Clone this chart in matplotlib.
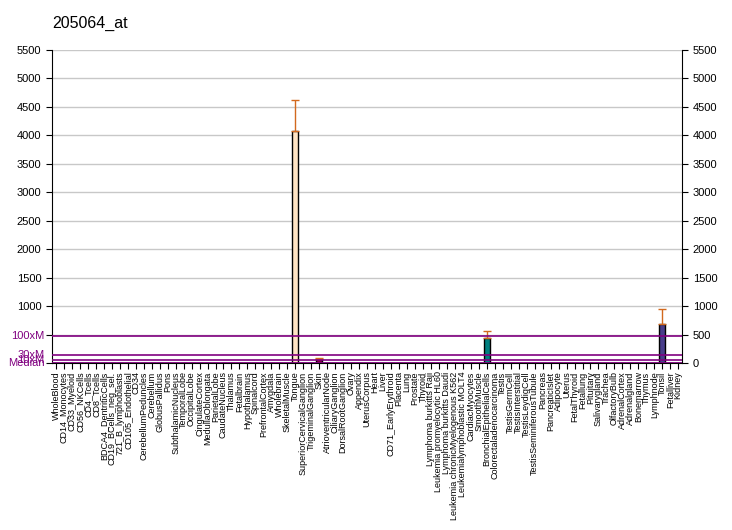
import matplotlib
matplotlib.use('Agg')
import matplotlib.pyplot as plt
import numpy as np

plt.rcParams['font.family'] = ['Liberation Sans', 'DejaVu Sans']

# 数据
tissues = ['WholeBlood', 'CD14_Monocytes', 'CD33_Myeloid', 'CD56_NKCells', 'CD4_Tcells',
           'CD8_Tcells', 'BDCA4_DentriticCells', 'CD19_BCells_neg_sel.', '721_B_lymphoblasts',
           'CD105_Endothelial', 'CD34', 'CerebellumPeduncles', 'Cerebellum', 'GlobusPallidus',
           'Pons', 'SubthalamicNucleus', 'TemporalLobe', 'OccipitalLobe', 'CingulateCortex',
           'MedullaOblongata', 'ParietalLobe', 'CaudateNucleus', 'Thalamus', 'Fetalbrain',
           'Hypothalamus', 'Spinalcord', 'PrefrontalCortex', 'Amygdala', 'Wholebrain',
           'SkeletalMuscle', 'Tongue', 'SuperiorCervicalGanglion', 'TrigeminalGanglion', 'Skin',
           'AtrioventricularNode', 'CiliaryGanglion', 'DorsalRootGanglion', 'Ovary', 'Appendix',
           'UterusCorpus', 'Heart', 'Liver', 'CD71_EarlyErythroid', 'Placenta', 'Lung',
           'Prostate', 'Thyroid', 'Lymphoma burkitts Raji', 'Leukemia promyelocytic HL60',
           'Lymphoma burkitts Daudi', 'Leukemia chronicMyelogenous K562',
           'Leukemialymphoblastic MOLT4', 'CardiacMyocytes', 'SmoothMuscle',
           'BronchialEpithelialCells', 'Colorectaladenocarcinoma', 'Testis', 'TestisGermCell',
           'TestisInterstitial', 'TestisLeydigCell', 'TestisSeminiferousTubule', 'Pancreas',
           'PancreaticIslet', 'Adipocyte', 'Uterus', 'FetalThyroid', 'Fetallung', 'Pituitary',
           'Salivarygland', 'Trachea', 'OlfactoryBulb', 'AdrenalCortex', 'Adrenalgland',
           'Bonemarrow', 'Thymus', 'Lymphnode', 'Tonsil', 'Fetalliver', 'Kidney']

# 大部分组织表达量接近0，只有少数可见
values = [4] * len(tissues)
errors = [0] * len(tissues)
highlight = {'Tongue': (4075, 550, '#FFE4C4'),
             'Skin': (65, 20, '#800040'),
             'BronchialEpithelialCells': (435, 135, '#008080'),
             'Tonsil': (687, 258, '#483D8B')}
colors = ['#C0C0C0'] * len(tissues)
for name, (v, e, c) in highlight.items():
    i = tissues.index(name)
    values[i] = v
    errors[i] = e
    colors[i] = c

median = 4.7
ref_lines = [('100xM', 470), ('30xM', 141), ('10xM', 47), ('Median', median)]

fig = plt.figure(figsize=(7.32, 5.3), dpi=100)
ax = fig.add_axes([0.071, 0.315, 0.861, 0.591])

x = np.arange(len(tissues))
ax.bar(x, values, width=0.75, color=colors, edgecolor='black', linewidth=1, zorder=2)
for i in range(len(tissues)):
    if errors[i] > 0:
        ax.errorbar(x[i], values[i], yerr=[[0], [errors[i]]], color='#D2691E',
                    capsize=3, elinewidth=1, capthick=1, zorder=3)

for label, v in ref_lines:
    lw = 2 if label == 'Median' else 1.2
    ax.axhline(v, color='#800080', linewidth=lw, zorder=4)
    ax.text(-0.012, v, label, transform=ax.get_yaxis_transform(), ha='right', va='center',
            color='#800080', fontsize=8)

ax.set_xlim(-0.5, len(tissues) - 0.5)
ax.set_ylim(0, 5500)
ax.set_yticks(np.arange(0, 5501, 500))
ax.yaxis.grid(True, color='#C8C8C8', linewidth=1)
ax.set_axisbelow(True)
ax.tick_params(axis='y', labelsize=8, right=True, labelright=True, length=4)
# 左侧 0 和 500 的刻度标签被参考线标签挡住
for tick, val in zip(ax.yaxis.get_major_ticks(), ax.get_yticks()):
    if val < 1000:
        tick.label1.set_visible(False)
ax.set_xticks(x)
ax.set_xticklabels(tissues, rotation=90, fontsize=6.5)
ax.tick_params(axis='x', length=4, pad=2)
ax.spines['top'].set_visible(False)

fig.text(0.072, 0.955, '205064_at', fontsize=11.5, ha='left', va='center')

plt.savefig('out.png', dpi=100)
